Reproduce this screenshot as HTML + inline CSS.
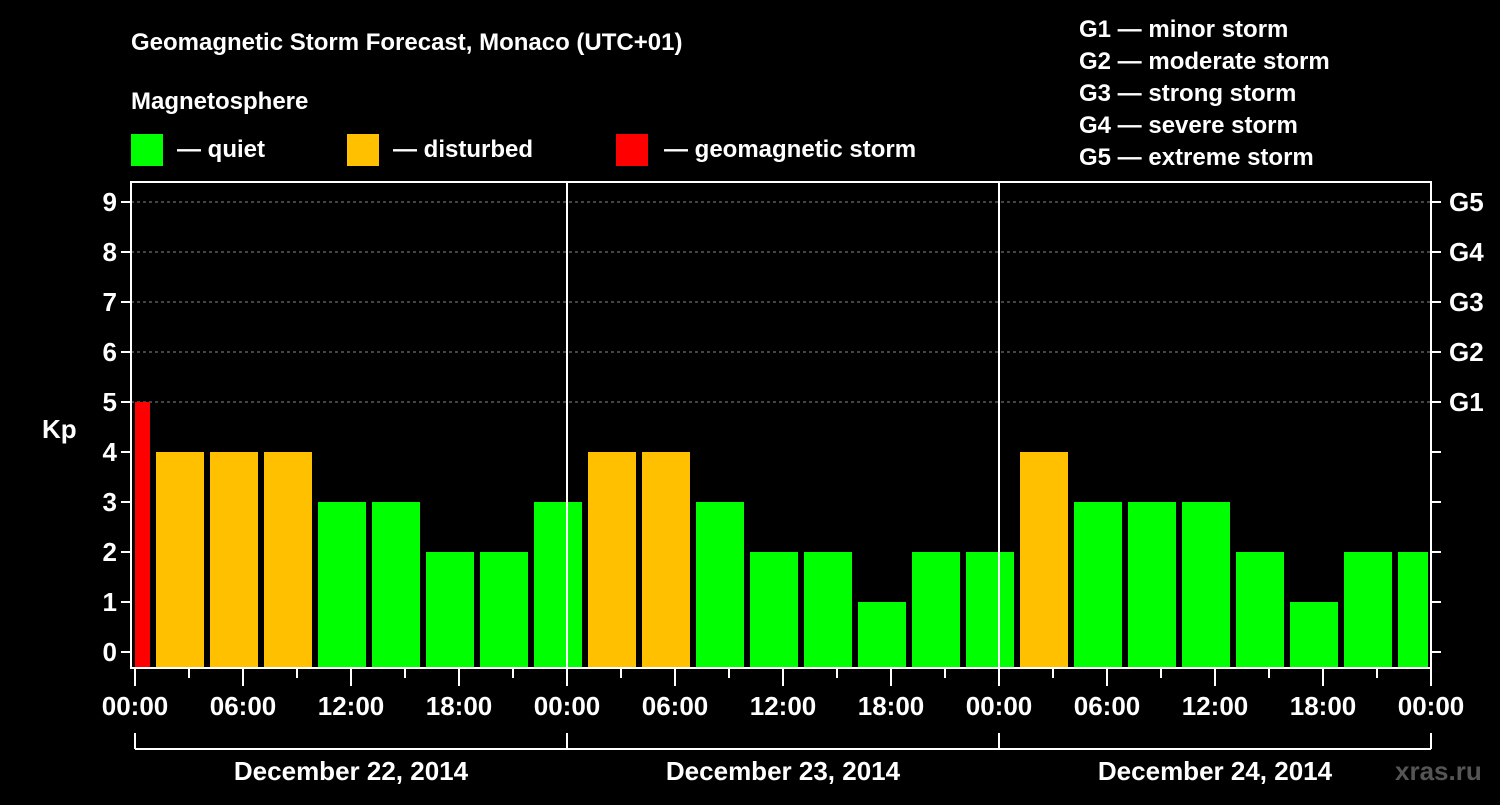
<!DOCTYPE html>
<html><head><meta charset="utf-8"><style>
body{margin:0;background:#000;width:1500px;height:800px;overflow:hidden}
svg text{font-family:"Liberation Sans",Arial,sans-serif;font-weight:bold;fill:#fff}
</style></head><body>
<svg id="chart" width="1500" height="800" xmlns="http://www.w3.org/2000/svg">
<text x="131" y="50" font-size="24">Geomagnetic Storm Forecast, Monaco (UTC+01)</text>
<text x="131" y="109" font-size="24">Magnetosphere</text>
<rect x="131" y="134" width="32" height="32" fill="#00ff00"/>
<text x="177" y="157" font-size="24">— quiet</text>
<rect x="347" y="134" width="32" height="32" fill="#ffc000"/>
<text x="393" y="157" font-size="24">— disturbed</text>
<rect x="616" y="134" width="32" height="32" fill="#ff0000"/>
<text x="664" y="157" font-size="24">— geomagnetic storm</text>
<g font-size="24">
<text x="1079" y="37">G1 — minor storm</text>
<text x="1079" y="69">G2 — moderate storm</text>
<text x="1079" y="101">G3 — strong storm</text>
<text x="1079" y="133">G4 — severe storm</text>
<text x="1079" y="165">G5 — extreme storm</text>
</g>
<text x="42" y="438" font-size="26">Kp</text>
<text x="1395" y="780" font-size="26" style="fill:#555">xras.ru</text>
<g id="grid"></g><g id="bars"></g><g id="axes"></g>
</svg>
<script>
const kpValues=[5,4,4,4,3,3,2,2,3,4,4,3,2,2,1,2,2,4,3,3,3,2,1,2,2];
const yTicks=[0,1,2,3,4,5,6,7,8,9];
const gLabels=["G1","G2","G3","G4","G5"];
const xTickLabels=["00:00","06:00","12:00","18:00","00:00","06:00","12:00","18:00","00:00","06:00","12:00","18:00","00:00"];
const dayLabels=["December 22, 2014","December 23, 2014","December 24, 2014"];
const NS="http://www.w3.org/2000/svg";
const X0=135,PXH=18,Y0=652,PXK=50,L=131,R=1431,T=182,B=668;
const xs=h=>X0+h*PXH, ys=v=>Y0-v*PXK;
function mk(p,tag,a,txt){const e=document.createElementNS(NS,tag);for(const k in a)e.setAttribute(k,a[k]);if(txt!==undefined)e.textContent=txt;p.appendChild(e);return e;}
const grid=document.getElementById('grid'),bars=document.getElementById('bars'),axes=document.getElementById('axes');
yTicks.forEach(v=>{
 if(v>=5){const l=mk(grid,'line',{x1:L,x2:R,y1:ys(v),y2:ys(v),stroke:'#888','stroke-dasharray':'3,3'});
 
 }
 const t=mk(axes,'line',{x1:L-10,x2:L,y1:ys(v),y2:ys(v),stroke:'#fff','stroke-width':2});
 
 
 const tr=mk(axes,'line',{x1:R,x2:R+10,y1:ys(v),y2:ys(v),stroke:'#fff','stroke-width':2});
 
 
 const lb=mk(axes,'text',{x:L-14,y:ys(v)+9,'font-size':26,'text-anchor':'end'},String(v));
 
 
 if(v>=5){const g=mk(axes,'text',{x:R+18,y:ys(v)+9,'font-size':26},gLabels[v-5]);
 
 }
});
kpValues.forEach((v,k)=>{
 const c=3*k-0.5;let x1=xs(c)-24,x2=xs(c)+24;
 x1=Math.max(x1,L+4);x2=Math.min(x2,R-3);
 const col=v>=5?'#ff0000':v>=4?'#ffc000':'#00ff00';
 const r=mk(bars,'rect',{x:x1,y:ys(v),width:x2-x1,height:B-ys(v),fill:col});
 
 
});
const fr=mk(axes,'rect',{x:L,y:T,width:R-L,height:B-T,fill:'none',stroke:'#fff','stroke-width':2});


[24,48].forEach(h=>{const l=mk(axes,'line',{x1:xs(h),x2:xs(h),y1:T,y2:B,stroke:'#fff','stroke-width':2});
 
 });
for(let h=0;h<=72;h+=3){const maj=h%6===0;
 const l=mk(axes,'line',{x1:xs(h),x2:xs(h),y1:B,y2:B+(maj?18:10),stroke:'#fff','stroke-width':2});
 
 }
xTickLabels.forEach((s,i)=>{const t=mk(axes,'text',{x:xs(i*6),y:715,'font-size':26,'text-anchor':'middle'},s);
 
 });
const br=mk(axes,'line',{x1:xs(0),x2:xs(72),y1:749,y2:749,stroke:'#fff','stroke-width':2});


[0,24,48,72].forEach(h=>{const l=mk(axes,'line',{x1:xs(h),x2:xs(h),y1:733,y2:749,stroke:'#fff','stroke-width':2});
 
 });
dayLabels.forEach((s,i)=>{const t=mk(axes,'text',{x:xs(i*24+12),y:780,'font-size':26,'text-anchor':'middle'},s);
 
 });
</script>
</body></html>
